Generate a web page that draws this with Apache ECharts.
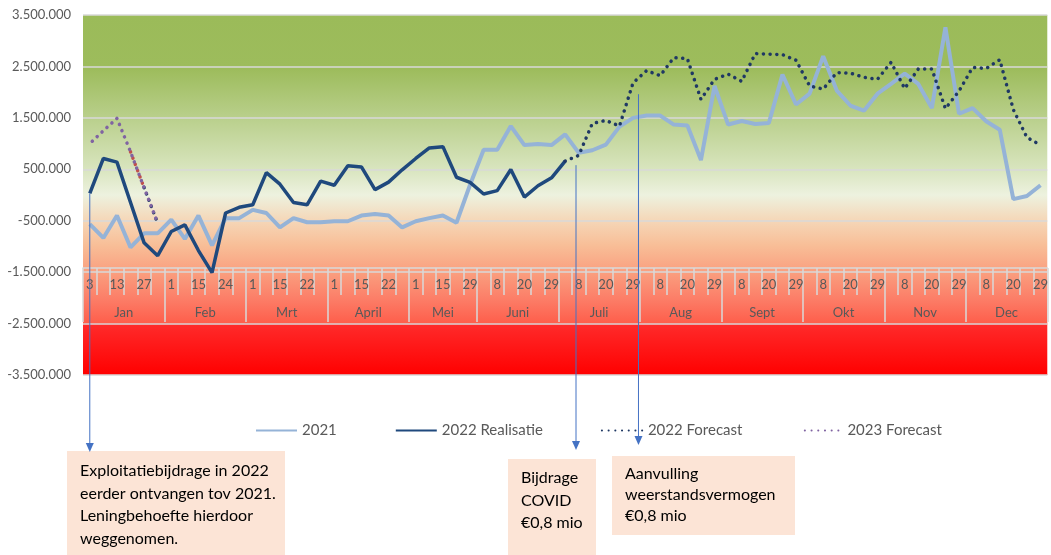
<!DOCTYPE html>
<html>
<head>
<meta charset="utf-8">
<script src="https://cdn.jsdelivr.net/npm/echarts@6/dist/echarts.min.js"></script>
<style>
html, body { margin: 0; padding: 0; background: #fff; }
#myChart { width: 1051px; height: 555px; }
</style>
</head>
<body>
<div id="myChart"></div>
<script>
// categories: weeks, grouped per month
var monthNames = ['Jan', 'Feb', 'Mrt', 'April', 'Mei', 'Juni', 'Juli', 'Aug', 'Sept', 'Okt', 'Nov', 'Dec'];
var weeksPerMonth = [6, 6, 6, 6, 5, 6, 6, 6, 6, 6, 6, 6];
var dayLabels = [
    '3', '6', '13', '20', '27', '31',
    '1', '8', '15', '22', '24', '28',
    '1', '8', '15', '18', '22', '29',
    '1', '8', '15', '18', '22', '29',
    '1', '8', '15', '22', '29',
    '1', '8', '15', '20', '24', '29',
    '1', '8', '15', '20', '24', '29',
    '1', '8', '15', '20', '24', '29',
    '1', '8', '15', '20', '24', '29',
    '1', '8', '15', '20', '24', '29',
    '1', '8', '15', '20', '24', '29',
    '1', '8', '15', '20', '24', '29'
];

// series values (euro)
var y2021 = [
    -565000, -835000, -400000, -1020000, -745000, -745000, -480000, -855000, -400000, -980000,
    -450000, -450000, -290000, -350000, -630000, -450000, -530000, -530000, -510000, -510000,
    -400000, -370000, -400000, -630000, -510000, -450000, -400000, -540000, 200000, 880000,
    880000, 1340000, 970000, 990000, 970000, 1180000, 820000, 870000, 980000, 1330000,
    1500000, 1545000, 1545000, 1370000, 1350000, 680000, 2120000, 1370000, 1440000, 1380000,
    1400000, 2340000, 1760000, 1970000, 2700000, 2030000, 1740000, 1640000, 1970000, 2160000,
    2360000, 2160000, 1690000, 3260000, 1580000, 1690000, 1435000, 1270000, -80000, -20000,
    190000
];
var real2022 = [
    30000, 710000, 640000, -145000, -930000, -1180000, -710000, -580000, -1080000, -1510000,
    -350000, -240000, -190000, 435000, 210000, -145000, -190000, 270000, 190000, 570000,
    545000, 105000, 250000, 490000, 710000, 915000, 940000, 345000, 245000, 20000,
    85000, 495000, -40000, 180000, 335000, 660000
];
var fc2022 = [
    null, null, null, null, 145000, -550000, null, null, null, null,
    null, null, null, null, null, null, null, null, null, null,
    null, null, null, null, null, null, null, null, null, null,
    null, null, null, null, null, 660000, 770000, 1390000, 1450000, 1340000,
    2180000, 2420000, 2320000, 2670000, 2650000, 1860000, 2250000, 2350000, 2210000, 2750000,
    2740000, 2730000, 2620000, 2120000, 2060000, 2380000, 2370000, 2290000, 2250000, 2580000,
    2070000, 2450000, 2450000, 1680000, 2020000, 2480000, 2460000, 2630000, 1660000, 1120000,
    970000
];
var fc2023 = [1000000, 1250000, 1490000, 840000, 140000, -550000];
var fcOther = [null, null, null, 840000, 140000];

var yMin = -3500000, yMax = 3500000, yStep = 1000000;

// month axis on half-week steps so that month names sit centred
var monthAxis = [];
var monthEdges = [0];
var pos = 0;
for (var k = 0; k <= dayLabels.length * 2; k++) monthAxis.push('');
monthNames.forEach(function (m, i) {
    monthAxis[pos * 2 + weeksPerMonth[i]] = m;
    pos += weeksPerMonth[i];
    monthEdges.push(pos * 2);
});

function nl(v) {
    var s = Math.abs(v).toFixed(0).replace(/\B(?=(\d{3})+(?!\d))/g, '.');
    return (v < 0 ? '-' : '') + s;
}

var font = 'Lato';
var dots = [0.1, 6.6];
var myChart = echarts.init(document.getElementById('myChart'));

myChart.setOption({
    animation: false,
    textStyle: { fontFamily: font },
    grid: {
        left: 83, top: 15, width: 969, height: 360,
        show: true, borderWidth: 0,
        backgroundColor: new echarts.graphic.LinearGradient(0, 0, 0, 1, [
            { offset: 0, color: '#9BBB59' },
            { offset: 0.15, color: '#9DBC5C' },
            { offset: 0.29, color: '#BAD08D' },
            { offset: 0.43, color: '#D9E5BF' },
            { offset: 0.5, color: '#EDF2DF' },
            { offset: 0.57, color: '#F5D7B8' },
            { offset: 0.64, color: '#F8BE97' },
            { offset: 0.714, color: '#FA9F7F' },
            { offset: 0.79, color: '#FC7D67' },
            { offset: 0.856, color: '#FE5E4B' },
            { offset: 0.858, color: '#FF2B2B' },
            { offset: 1, color: '#FF0000' }
        ])
    },
    legend: {
        data: ['2021', '2022 Realisatie', '2022 Forecast', '2023 Forecast'],
        left: 255, top: 423, padding: 0,
        itemWidth: 41, itemHeight: 14, itemGap: 58,
        itemStyle: { opacity: 0 },
        textStyle: { color: '#595959', fontSize: 15, fontFamily: font }
    },
    xAxis: [{
        type: 'category',
        data: dayLabels,
        position: 'bottom',
        offset: -107,
        axisLine: { show: true, onZero: false, lineStyle: { color: '#D9D9D9', width: 1.5 } },
        axisTick: { show: true, interval: 0, length: 27, lineStyle: { color: '#D9D9D9', width: 1.5 } },
        axisLabel: { interval: 1, color: '#595959', fontSize: 13, margin: 10 },
        splitLine: { show: false }
    }, {
        type: 'category',
        data: monthAxis,
        boundaryGap: false,
        position: 'bottom',
        offset: -107,
        axisLine: { show: false, onZero: false },
        axisTick: {
            show: true, length: 54,
            interval: function (idx) { return monthEdges.indexOf(idx) >= 0; },
            lineStyle: { color: '#D9D9D9', width: 1.5 }
        },
        axisLabel: { interval: 0, color: '#595959', fontSize: 13, margin: 38 },
        splitLine: { show: false }
    }],
    yAxis: {
        type: 'value',
        min: yMin, max: yMax, interval: yStep,
        axisLine: { show: false },
        axisTick: { show: false },
        axisLabel: { color: '#595959', fontSize: 13, margin: 12, formatter: nl },
        splitLine: { lineStyle: { color: '#D9D9D9', width: 1.5 } }
    },
    series: [{
        name: '2021', type: 'line', data: y2021,
        symbol: 'none', lineStyle: { color: '#95B3D7', width: 4 }, itemStyle: { color: '#95B3D7' }
    }, {
        name: '2022 Realisatie', type: 'line', data: real2022,
        symbol: 'none', lineStyle: { color: '#1F497D', width: 3.5 }, itemStyle: { color: '#1F497D' }
    }, {
        name: '2022 Forecast', type: 'line', data: fc2022,
        symbol: 'none', lineStyle: { color: '#1F3864', width: 3.5, type: dots, cap: 'round' }, itemStyle: { color: '#1F3864' }
    }, {
        name: 'Overig', type: 'line', data: fcOther,
        symbol: 'none', lineStyle: { color: '#C0504D', width: 3.5, type: dots, cap: 'round' }, itemStyle: { color: '#C0504D' }
    }, {
        name: '2023 Forecast', type: 'line', data: fc2023,
        symbol: 'none', lineStyle: { color: '#8064A2', width: 3.5, type: dots, cap: 'round', dashOffset: 3.3 }, itemStyle: { color: '#8064A2' }
    }]
});

// annotations: arrows from the data to the text boxes
function px(i, v) { return myChart.convertToPixel({ seriesIndex: 0 }, [i, v]); }
function arrow(x, y1, y2) {
    return [
        { type: 'line', shape: { x1: x, y1: y1, x2: x, y2: y2 - 8 }, style: { stroke: '#4472C4', lineWidth: 1 }, z: 50 },
        { type: 'polygon', shape: { points: [[x - 4, y2 - 9], [x + 4, y2 - 9], [x, y2]] }, style: { fill: '#4472C4' }, z: 50 }
    ];
}
function box(x, y, w, h, tx, ty, lh, text) {
    return [
        { type: 'rect', shape: { x: x, y: y, width: w, height: h }, style: { fill: '#FCE4D6' }, z: 40 },
        { type: 'text', x: tx, y: ty, style: { text: text, fill: '#000000', fontSize: 16, fontFamily: font, lineHeight: lh, verticalAlign: 'top' }, z: 41 }
    ];
}
var p0 = px(0, real2022[0]);
var pa = px(35, 580000), pb = px(36, 580000);
var pc = px(40, 1960000), pd = px(41, 1960000);
var xa = pa[0] + 0.8 * (pb[0] - pa[0]);
var xc = pc[0] + 0.4 * (pd[0] - pc[0]);

myChart.setOption({
    graphic: [].concat(
        arrow(p0[0], p0[1], 452),
        arrow(xa, pa[1], 450),
        arrow(xc, pc[1], 445),
        box(67, 451, 218, 110, 80, 460, 22.5, 'Exploitatiebijdrage in 2022\neerder ontvangen tov 2021.\nLeningbehoefte hierdoor\nweggenomen.'),
        box(508, 459, 88, 100, 521, 467, 22.3, 'Bijdrage\nCOVID\n€0,8 mio'),
        box(612, 456, 183, 79, 625, 463, 21, 'Aanvulling\nweerstandsvermogen\n€0,8 mio')
    )
});

window.onresize = function () {
    myChart.resize();
};
</script>
</body>
</html>
